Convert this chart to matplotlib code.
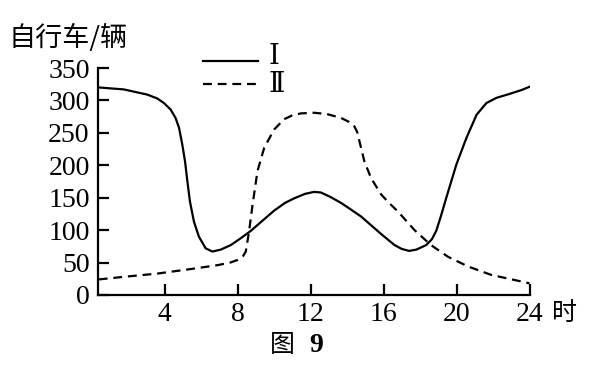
import matplotlib
matplotlib.use("Agg")
import matplotlib.pyplot as plt
from matplotlib.lines import Line2D

# ---- data ----
hours_I = [0.39, 1.76, 3.05, 3.6, 3.96, 4.33, 4.6, 4.79, 4.97, 5.12, 5.25, 5.39,
           5.61, 5.88, 6.25, 6.62, 7.08, 7.63, 8.2, 8.73, 9.3, 10.0, 10.6, 11.1,
           11.7, 12.2, 12.57, 13.1, 13.67, 14.2, 14.77, 15.3, 15.87, 16.3, 16.6,
           17.0, 17.4, 17.8, 18.34, 18.65, 18.89, 19.16, 19.44, 19.99, 20.54, 21.1,
           21.64, 22.19, 22.9, 23.56, 24.0]
bikes_I = [320, 317, 309, 303, 296, 286, 273, 258, 232, 206, 175, 144,
           113, 90, 72, 67, 70, 77, 88, 99, 113, 130, 142, 149,
           156, 159, 158, 151, 142, 132, 121, 108, 94, 84, 77,
           71, 68, 70, 77, 86, 99, 123, 150, 201, 242, 278,
           296, 304, 310, 316, 321]

hours_II = [0.39, 1.76, 3.6, 5.43, 6.9, 7.6, 8.0, 8.3, 8.45, 8.63, 8.82, 9.09,
            9.46, 10.0, 10.55, 11.0, 11.47, 12.2, 12.9, 13.67, 14.1, 14.4, 14.56,
            14.68, 14.95, 15.32, 15.87, 16.3, 16.78, 17.7, 18.6, 19.53, 20.63,
            21.9, 23.2, 24.0]
bikes_II = [24, 28, 33, 40, 46, 50, 54, 60, 67, 98, 139, 191,
            227, 255, 271, 277, 280, 281, 279, 273, 267, 260, 251,
            237, 206, 180, 155, 142, 129, 100, 77, 59, 44,
            31, 23, 18]

xticks = [4, 8, 12, 16, 20, 24]
yticks = [0, 50, 100, 150, 200, 250, 300, 350]
ylabel_text = "自行车/辆"
xunit_text = "时"
caption_text = "图"
caption_num = "9"
legend_labels = ["Ⅰ", "Ⅱ"]

W, H = 592, 369
fig = plt.figure(figsize=(W / 100, H / 100), dpi=100)

def fx(px):
    return px / W

def fy(py):
    return 1 - py / H

left, right, top, bottom = 98, 529.5, 68, 295
ax = fig.add_axes([fx(left), fy(bottom), fx(right) - fx(left), fy(top) - fy(bottom)])

serif = ["Liberation Serif", "DejaVu Serif"]
cjk = ["Noto Sans CJK SC", "DejaVu Sans"]

lw = 1.6
ax.plot(hours_I, bikes_I, color="black", lw=lw, solid_joinstyle="round")
ax.plot(hours_II, bikes_II, color="black", lw=lw, linestyle=(0, (4, 2.6)))

ax.set_xlim(0.35, 24)
ax.set_ylim(0, 350)
ax.set_xticks(xticks)
ax.set_yticks(yticks)
ax.set_xticklabels([str(t) for t in xticks], fontfamily=serif, fontsize=20)
ax.set_yticklabels([str(t) for t in yticks], fontfamily=serif, fontsize=20)
ax.tick_params(axis="both", direction="in", length=8, width=lw, color="black")
ax.tick_params(axis="x", pad=5)
ax.tick_params(axis="y", pad=6)
for s in ["top", "right"]:
    ax.spines[s].set_visible(False)
for s in ["left", "bottom"]:
    ax.spines[s].set_linewidth(lw)
ax.patch.set_alpha(0)

# y label (unit) at top-left
fig.text(fx(9), fy(38), ylabel_text, fontfamily=cjk, fontsize=19.5,
         ha="left", va="center")
# x unit
fig.text(fx(552), fy(313), xunit_text, fontfamily=cjk, fontsize=18,
         ha="left", va="center")
# caption
fig.text(fx(270), fy(345), caption_text, fontfamily=cjk, fontsize=18,
         ha="left", va="center")
fig.text(fx(309), fy(345), caption_num, fontfamily=serif, fontsize=20,
         fontweight="bold", ha="left", va="center")

# legend
fig.add_artist(Line2D([fx(203), fx(258)], [fy(61), fy(61)], color="black", lw=lw))
fig.add_artist(Line2D([fx(203), fx(258)], [fy(84), fy(84)], color="black", lw=lw,
                      linestyle=(0, (4, 2.6))))
fig.text(fx(268), fy(58), legend_labels[0], fontfamily=["Liberation Serif", "DejaVu Serif", "Noto Sans CJK SC"],
         fontsize=20, ha="left", va="center")
fig.text(fx(268), fy(86), legend_labels[1], fontfamily=["Liberation Serif", "DejaVu Serif", "Noto Sans CJK SC"],
         fontsize=20, ha="left", va="center")

fig.savefig("out.png", dpi=100)
